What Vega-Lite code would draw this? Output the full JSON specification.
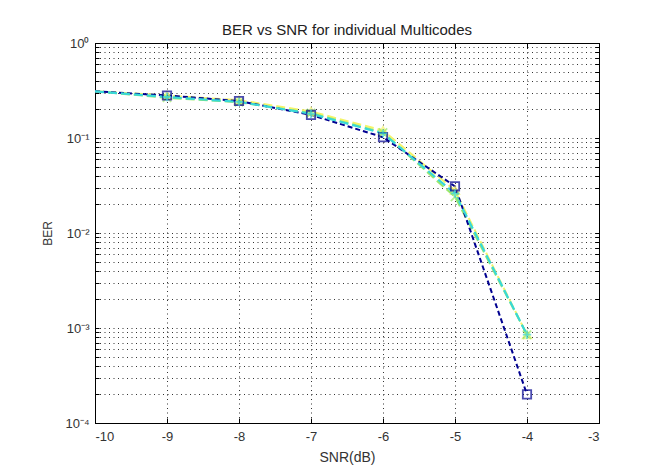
{
  "$schema": "https://vega.github.io/schema/vega-lite/v6.json",
  "width": 504,
  "height": 380,
  "autosize": {"type": "none"},
  "padding": {"left": 95, "top": 43, "right": 50, "bottom": 47},
  "background": "white",
  "config": {
    "font": "Liberation Sans",
    "view": {"stroke": "#000", "strokeWidth": 1},
    "axis": {"labelFont": "Liberation Sans", "titleFont": "Liberation Sans", "labelColor": "#333", "titleColor": "#333", "labelFontSize": 13, "titleFontSize": 14, "titleFontWeight": "normal", "domainColor": "#000", "tickColor": "#000", "gridColor": "#000", "gridDash": [1, 3.5], "gridOpacity": 0.8}
  },
  "title": {"text": "BER vs SNR for individual Multicodes", "fontSize": 15, "fontWeight": "normal", "font": "Liberation Sans", "color": "#222", "offset": -1},
  "data": {"values": [
    {"snr": -10, "ber": 0.31, "code": "Code 1"},
    {"snr": -9, "ber": 0.28, "code": "Code 1"},
    {"snr": -8, "ber": 0.25, "code": "Code 1"},
    {"snr": -7, "ber": 0.19, "code": "Code 1"},
    {"snr": -6, "ber": 0.12, "code": "Code 1"},
    {"snr": -5, "ber": 0.028, "code": "Code 1"},
    {"snr": -4, "ber": 0.00085, "code": "Code 1"},
    {"snr": -10, "ber": 0.31, "code": "Code 2"},
    {"snr": -9, "ber": 0.265, "code": "Code 2"},
    {"snr": -8, "ber": 0.238, "code": "Code 2"},
    {"snr": -7, "ber": 0.183, "code": "Code 2"},
    {"snr": -6, "ber": 0.114, "code": "Code 2"},
    {"snr": -5, "ber": 0.024, "code": "Code 2"},
    {"snr": -4, "ber": 0.00085, "code": "Code 2"},
    {"snr": -10, "ber": 0.31, "code": "Code 3"},
    {"snr": -9, "ber": 0.28, "code": "Code 3"},
    {"snr": -8, "ber": 0.245, "code": "Code 3"},
    {"snr": -7, "ber": 0.175, "code": "Code 3"},
    {"snr": -6, "ber": 0.102, "code": "Code 3"},
    {"snr": -5, "ber": 0.031, "code": "Code 3"},
    {"snr": -4, "ber": 0.0002, "code": "Code 3"},
    {"snr": -10, "ber": 0.31, "code": "Code 4"},
    {"snr": -9, "ber": 0.27, "code": "Code 4"},
    {"snr": -8, "ber": 0.24, "code": "Code 4"},
    {"snr": -7, "ber": 0.18, "code": "Code 4"},
    {"snr": -6, "ber": 0.112, "code": "Code 4"},
    {"snr": -5, "ber": 0.026, "code": "Code 4"},
    {"snr": -4, "ber": 0.00085, "code": "Code 4"}
  ]},
  "encoding": {
    "x": {"field": "snr", "type": "quantitative", "scale": {"domain": [-10, -3], "nice": false, "zero": false}},
    "y": {"field": "ber", "type": "quantitative", "scale": {"type": "log", "domain": [0.0001, 1], "nice": false}}
  },
  "layer": [
    {
      "mark": {"type": "point", "opacity": 0},
      "encoding": {
        "x": {"field": "snr", "type": "quantitative", "axis": {"orient": "top", "values": [-10, -9, -8, -7, -6, -5, -4, -3], "labels": false, "title": null, "tickSize": -5, "grid": false}},
        "y": {"field": "ber", "type": "quantitative", "axis": {"orient": "right", "values": [0.0001, 0.0002, 0.0003, 0.0004, 0.0005, 0.0006, 0.0007, 0.0008, 0.0009, 0.001, 0.002, 0.003, 0.004, 0.005, 0.006, 0.007, 0.008, 0.009, 0.01, 0.02, 0.03, 0.04, 0.05, 0.06, 0.07, 0.08, 0.09, 0.1, 0.2, 0.3, 0.4, 0.5, 0.6, 0.7, 0.8, 0.9, 1], "labels": false, "title": null, "tickSize": -4, "grid": false}}
      }
    },
    {
      "encoding": {
        "x": {"field": "snr", "type": "quantitative",
          "axis": {"orient": "bottom", "values": [-10, -9, -8, -7, -6, -5, -4, -3], "labelExpr": "'' + datum.value", "title": "SNR(dB)", "tickSize": -5, "labelPadding": 12, "titlePadding": 7, "grid": true}},
        "y": {"field": "ber", "type": "quantitative",
          "axis": {"orient": "left", "values": [0.0001, 0.0002, 0.0003, 0.0004, 0.0005, 0.0006, 0.0007, 0.0008, 0.0009, 0.001, 0.002, 0.003, 0.004, 0.005, 0.006, 0.007, 0.008, 0.009, 0.01, 0.02, 0.03, 0.04, 0.05, 0.06, 0.07, 0.08, 0.09, 0.1, 0.2, 0.3, 0.4, 0.5, 0.6, 0.7, 0.8, 0.9, 1],
            "labelExpr": "datum.value==1?'10⁰':datum.value==0.1?'10⁻¹':datum.value==0.01?'10⁻²':datum.value==0.001?'10⁻³':datum.value==0.0001?'10⁻⁴':''",
            "title": "BER", "titleFontSize": 12, "tickSize": -4, "labelPadding": 10, "titlePadding": 10, "grid": true, "labelOverlap": false}}
      },
      "layer": [
        {
          "transform": [{"filter": "datum.code == 'Code 1' || datum.code == 'Code 2'"}],
          "mark": {"type": "line", "strokeWidth": 2, "strokeDash": [9, 4]},
          "encoding": {
            "color": {"field": "code", "type": "nominal", "legend": null, "scale": {"domain": ["Code 1", "Code 2", "Code 3", "Code 4"], "range": ["#f4f46a", "#9be86a", "#000090", "#38d8d8"]}},
            "order": {"field": "snr", "type": "quantitative"}
          }
        },
        {
          "transform": [{"filter": "datum.code == 'Code 3'"}],
          "mark": {"type": "line", "strokeWidth": 2, "strokeDash": [5, 3]},
          "encoding": {
            "color": {"field": "code", "type": "nominal", "legend": null},
            "order": {"field": "snr", "type": "quantitative"}
          }
        },
        {
          "transform": [{"filter": "datum.code == 'Code 4'"}],
          "mark": {"type": "line", "strokeWidth": 2.2, "strokeDash": [9, 4]},
          "encoding": {
            "color": {"field": "code", "type": "nominal", "legend": null},
            "order": {"field": "snr", "type": "quantitative"}
          }
        },
        {
          "transform": [{"filter": "datum.snr > -10"}],
          "mark": {"type": "point", "filled": false, "strokeWidth": 1.8, "size": 70},
          "encoding": {
            "color": {"field": "code", "type": "nominal", "legend": null},
            "shape": {"field": "code", "type": "nominal", "legend": null, "scale": {"domain": ["Code 1", "Code 2", "Code 3", "Code 4"], "range": ["triangle-up", "M-1,-1L1,1M-1,1L1,-1", "square", "M-1,0H1M0,-1V1"]}}
          }
        }
      ]
    }
  ],
  "resolve": {"axis": {"x": "independent", "y": "independent"}}
}
